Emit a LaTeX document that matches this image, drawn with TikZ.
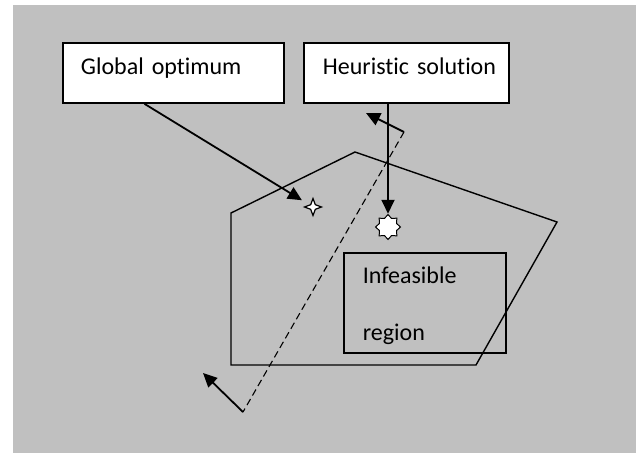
\documentclass[tikz,border=0pt]{standalone}
\usepackage{fontspec}
\setmainfont{Carlito}[Ligatures=NoCommon]
\usetikzlibrary{arrows.meta,shapes.geometric,calc}
\definecolor{bggray}{RGB}{192,192,192}

\tikzset{
  box/.style={draw, line width=1.8pt, anchor=north west, inner ysep=0pt, align=left},
  arr/.style={-{Triangle[length=14pt,width=13pt]}, line width=1.8pt},
}

\begin{document}
\begin{tikzpicture}[x=1pt, y=-1pt, font=\fontsize{24}{29}\selectfont]
    \useasboundingbox (0,0) rectangle (636,453);
    \fill [bggray] (13,5) rectangle (636,453);

    % feasible region
    \draw [line width=1.4pt] (231,213) -- (355,152) -- (557,222) -- (476,365) -- (231,365) -- cycle;

    \node (glob) at (62,42) [box, fill=white, inner xsep=18pt, text width=185pt, text height=32pt, text depth=28pt] {Global optimum};
    \node (heur) at (303,42) [box, fill=white, inner xsep=19pt, text width=167pt, text height=32pt, text depth=28pt] {\mbox{Heuristic solution}};
    \node (infeas) at (343,252) [box, inner xsep=19pt, text width=124pt, text height=31pt, text depth=69pt, font=\fontsize{24}{57}\selectfont] {Infeasible\\region};

    \node (gopt) at (313,207) [star, star points=4, star point ratio=2.6, minimum size=17pt, inner sep=0pt, draw, fill=white, line width=1.2pt] {};
    \node (sol) at (388,227) [star, star points=8, star point ratio=1.35, minimum size=25pt, inner sep=0pt, draw, fill=white, line width=1pt] {};

    \draw [arr, shorten >=13pt] ($(glob.south west)!0.37!(glob.south east)$) -- (gopt.center);
    \draw [arr] (heur.south -| sol.north) -- (sol.north);

    % search direction
    \coordinate (dtop) at (404,132);
    \coordinate (dbot) at (243,412);
    \coordinate (ttip) at (366,113);
    \coordinate (btip) at (203,373);
    \draw [dash pattern=on 7pt off 4pt, line width=1.1pt] (dtop) -- (dbot);
    \draw [arr] (dtop) -- (ttip);
    \draw [arr] (dbot) -- (btip);
\end{tikzpicture}
\end{document}
